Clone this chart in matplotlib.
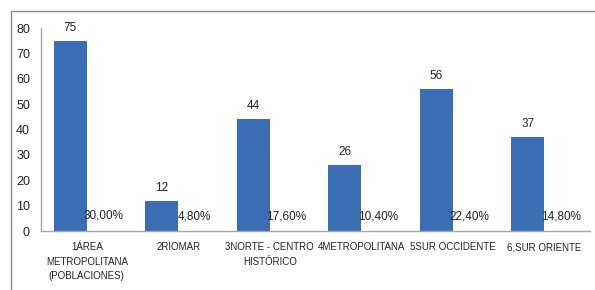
import matplotlib.pyplot as plt
from matplotlib.patches import Rectangle

categories = ['1ÁREA\nMETROPOLITANA\n(POBLACIONES)', '2RIOMAR', '3NORTE - CENTRO\nHISTÓRICO',
              '4METROPOLITANA', '5SUR OCCIDENTE', '6,SUR ORIENTE']
counts = [75, 12, 44, 26, 56, 37]
percents = [0.30, 0.048, 0.176, 0.104, 0.224, 0.148]

plt.rcParams['font.family'] = ['Liberation Sans', 'DejaVu Sans']

fig = plt.figure(figsize=(5.95, 2.9), dpi=100)
ax = fig.add_axes([0.069, 0.2034, 0.9226, 0.70])

x = list(range(len(categories)))
w = 0.36
bars = ax.bar([i - w / 2 for i in x], counts, width=w, color='#3A6DB4')

for i, c in enumerate(counts):
    ax.annotate(str(c), (i - w / 2, c), xytext=(0, 5), textcoords='offset points',
                ha='center', va='bottom', fontsize=8.5, color='#222222')
for i, p in enumerate(percents):
    label = ('%.2f%%' % (p * 100)).replace('.', ',')
    ax.annotate(label, (i + w / 2, p), xytext=(0, 6), textcoords='offset points',
                ha='center', va='bottom', fontsize=8.5, color='#222222')

ax.set_xlim(-0.5, len(categories) - 0.5)
ax.set_ylim(0, 80)
ax.set_yticks(range(0, 81, 10))
ax.set_xticks(x)
ax.set_xticklabels(categories, fontsize=7, linespacing=1.55)
ax.tick_params(axis='both', length=0, colors='#222222')
ax.tick_params(axis='y', labelsize=9, pad=8)
ax.tick_params(axis='x', pad=8)
for s in ['top', 'right']:
    ax.spines[s].set_visible(False)
for s in ['left', 'bottom']:
    ax.spines[s].set_color('#A6A6A6')
    ax.spines[s].set_linewidth(1)

fig.patches.append(Rectangle((11 / 595, -0.1), 1.2, 1 - 11 / 290 + 0.1, transform=fig.transFigure,
                             fill=False, edgecolor='#8C8C8C', linewidth=1))

fig.savefig('out.png', dpi=100)
